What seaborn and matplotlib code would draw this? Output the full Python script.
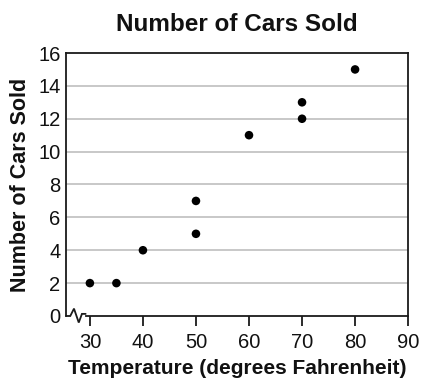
import numpy as np
import pandas as pd
import matplotlib
matplotlib.use("Agg")
import matplotlib.pyplot as plt
import matplotlib.transforms as mtrans
import seaborn as sns

temperature = [30, 35, 40, 50, 50, 60, 70, 70, 80]
cars_sold = [2, 2, 4, 5, 7, 11, 12, 13, 15]
x_ticks = [30, 40, 50, 60, 70, 80, 90]
y_ticks = [0, 2, 4, 6, 8, 10, 12, 14, 16]

df = pd.DataFrame({'temp': temperature, 'cars': cars_sold})

sns.set_style('white')
plt.rcParams['font.family'] = ['Liberation Sans', 'DejaVu Sans']
plt.rcParams['text.color'] = '#111111'
plt.rcParams['xtick.color'] = '#111111'
plt.rcParams['ytick.color'] = '#111111'
plt.rcParams['axes.labelcolor'] = '#111111'

fig = plt.figure(figsize=(4.26, 3.88), dpi=100)
ax = fig.add_axes([0.155, 0.1856, 0.803, 0.6778])

for y in y_ticks[1:-1]:
    ax.axhline(y, color='#c4c4c4', linewidth=1.3, zorder=0)

sns.scatterplot(data=df, x='temp', y='cars', color='black', s=38,
                edgecolor='none', ax=ax, zorder=3)

ax.set_xlim(25.5, 90)
ax.set_ylim(0, 16)
ax.set_xticks(x_ticks)
ax.set_yticks(y_ticks)

for loc in ['top', 'bottom', 'right', 'left']:
    ax.spines[loc].set_visible(True)
    ax.spines[loc].set_color('#1a1a1a')
    ax.spines[loc].set_linewidth(1.3)
ax.spines['bottom'].set_bounds(29.2, 90)

# axis break zigzag at bottom left
trans = mtrans.blended_transform_factory(ax.transData, ax.transAxes)
zx = [25.5, 26.3, 27.0, 27.9, 28.5, 29.2]
zy = [0.0, 0.0, 0.028, -0.025, 0.008, 0.008]
ax.plot(zx, zy, color='#1a1a1a', linewidth=1.3, transform=trans,
        clip_on=False, solid_joinstyle='miter')

ax.tick_params(axis='x', direction='out', length=7, width=1.3, color='#1a1a1a',
               labelsize=14.5, pad=5)
ax.tick_params(axis='y', length=0, labelsize=14.5, pad=4)
ax.tick_params(left=False, bottom=True)

ax.set_xlabel('Temperature (degrees Fahrenheit)', fontsize=15,
              fontweight='bold', labelpad=5)
ax.set_ylabel('Number of Cars Sold', fontsize=15.5, fontweight='bold', labelpad=5)
ax.set_title('Number of Cars Sold', fontsize=17.5, fontweight='bold', pad=16)
ax.grid(False)

fig.savefig('out.png', dpi=100)
